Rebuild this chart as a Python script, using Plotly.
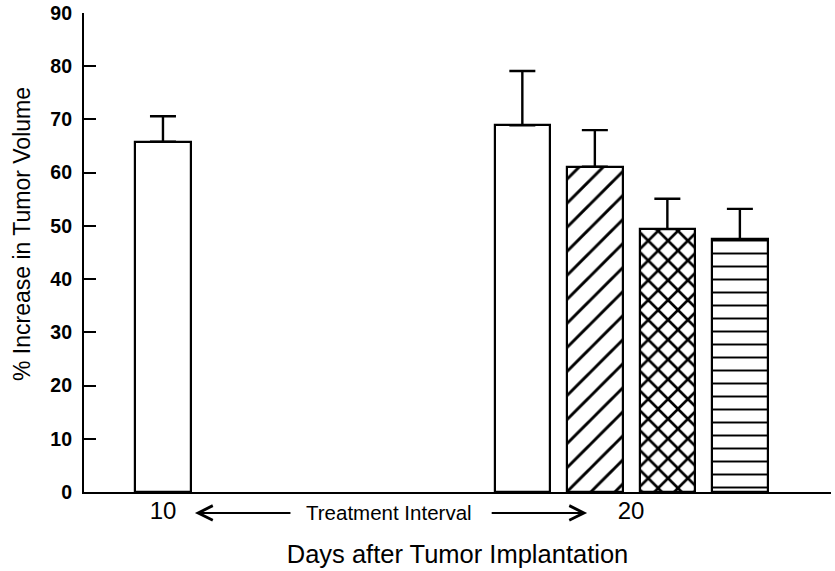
import plotly.graph_objects as go

# ---- data ----
days = [10, 20, 20, 20, 20]
values = [65.8, 68.9, 61.1, 49.4, 47.5]
errors = [4.8, 10.2, 6.9, 5.7, 5.7]
patterns = ["", "", "/", "x", "-"]
y_ticks = [0, 10, 20, 30, 40, 50, 60, 70, 80, 90]
x_ticks = [10, 20]
x_ticktext = ["10", "20"]

# ---- layout of bars around each day (styling, computed) ----
pitch = 1.549
bar_w = 1.185
x_pos = []
for i, d in enumerate(days):
    group = [j for j, dd in enumerate(days) if dd == d]
    k = group.index(i)
    x_pos.append(d + (k - (len(group) - 1) / 2) * pitch)

pat_size = {"": 8, "/": 17, "x": 14, "-": 13}
pat_sol = {"": 0.0, "/": 0.17, "x": 0.34, "-": 0.15}

FONT = "Liberation Sans, Arial, sans-serif"
PX_PER_DAY = 46.82

fig = go.Figure()
fig.add_trace(go.Bar(
    x=x_pos, y=values, width=[bar_w] * len(values),
    marker=dict(
        color="white",
        line=dict(color="black", width=2.2),
        pattern=dict(
            shape=patterns,
            fgcolor="black", bgcolor="white", fgopacity=1,
            size=[pat_size[p] for p in patterns],
            solidity=[pat_sol[p] for p in patterns],
            fillmode="overlay",
        ),
    ),
    error_y=dict(type="data", array=errors, arrayminus=[0] * len(errors),
                 symmetric=False, color="black", thickness=2.4, width=13),
    showlegend=False,
))

# "Treatment Interval" label with arrows between the two day labels
y_ann = -0.0438  # paper coords, just below the x axis
left_head, left_tail = 10.683, 12.755
right_tail, right_head = 16.99, 19.06
fig.add_annotation(x=14.82, y=y_ann, xref="x", yref="paper", text="Treatment Interval",
                   showarrow=False, yanchor="middle",
                   font=dict(family=FONT, size=20.5, color="black"))
fig.add_annotation(x=left_head, y=y_ann, xref="x", yref="paper",
                   ax=(left_tail - left_head) * PX_PER_DAY, ay=0,
                   axref="pixel", ayref="pixel", text="", showarrow=True,
                   arrowhead=5, arrowsize=1.6, arrowwidth=1.8, arrowcolor="black")
fig.add_annotation(x=right_head, y=y_ann, xref="x", yref="paper",
                   ax=(right_tail - right_head) * PX_PER_DAY, ay=0,
                   axref="pixel", ayref="pixel", text="", showarrow=True,
                   arrowhead=5, arrowsize=1.6, arrowwidth=1.8, arrowcolor="black")

# y-axis title (placed as rotated text, slightly above the axis centre as in the reference)
fig.add_annotation(x=0, xref="paper", xshift=-62, y=0.5386, yref="paper",
                   text="% Increase in Tumor Volume", textangle=-90,
                   showarrow=False, xanchor="center", yanchor="middle",
                   font=dict(family=FONT, size=23, color="black"))

fig.update_layout(
    width=835, height=571,
    margin=dict(l=84, r=4, t=13, b=79),
    paper_bgcolor="white", plot_bgcolor="white",
    font=dict(family=FONT, color="black"),
    bargap=0,
)
fig.update_xaxes(
    range=[8.313, 24.27], tickvals=x_ticks, ticktext=x_ticktext,
    showline=True, linecolor="black", linewidth=2.2, showgrid=False,
    zeroline=False, ticks="", tickfont=dict(size=24, family=FONT),
    ticklabelstandoff=-4, automargin=False,
    title=dict(text="Days after Tumor Implantation",
               font=dict(size=25.5, family=FONT), standoff=22),
)
fig.update_yaxes(
    range=[0, 90], tickvals=y_ticks, showline=True, linecolor="black",
    linewidth=2.2, showgrid=False, zeroline=False, ticks="inside",
    ticklen=12, tickwidth=2.2, tickcolor="black",
    tickfont=dict(size=19.5, family=FONT, weight="bold"),
    ticklabelstandoff=6, automargin=False,
)

fig.write_html("out.html",
               config={"displayModeBar": False},
               post_script="document.body.style.margin='0';"
                           "document.body.style.overflow='hidden';")
